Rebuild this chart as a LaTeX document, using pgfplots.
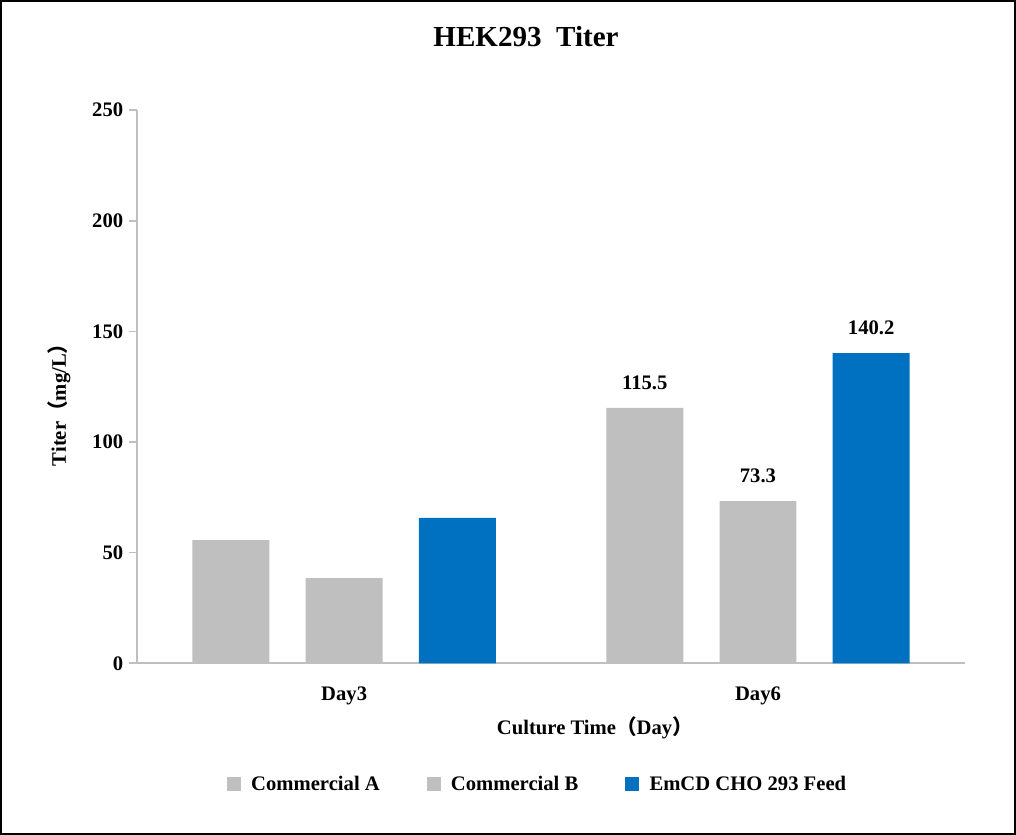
\documentclass[border=0pt]{standalone}
\usepackage{fontspec}
\setmainfont{Liberation Serif}
\newfontfamily\cjk{Noto Sans CJK SC}
\usepackage{pgfplots}
\pgfplotsset{compat=1.18}
\definecolor{cgray}{HTML}{BFBFBF}
\definecolor{cblue}{HTML}{0070C0}
\definecolor{caxis}{HTML}{BFBFBF}

\begin{document}
\begin{tikzpicture}
\begin{axis}[
  scale only axis,
  width=413pt, height=276pt,
  xmin=-0.5, xmax=1.5, ymin=0, ymax=250,
  axis x line=bottom, axis y line=left,
  axis line style={-, draw=caxis, line width=0.8pt},
  tick style={draw=caxis, line width=0.8pt},
  tick align=outside,
  ytick={0,50,...,250},
  major tick length=4pt,
  xtick={0,1}, xticklabels={Day3,Day6},
  x tick style={draw=none},
  extra x ticks={-0.5,0.5,1.5}, extra x tick labels={},
  extra x tick style={tick style={draw=caxis, line width=0.8pt}, major tick length=3pt},
  xticklabel style={font=\fontsize{10.3}{12}\selectfont\bfseries, yshift=-4pt},
  yticklabel style={font=\fontsize{10.3}{12}\selectfont\bfseries, xshift=0.5pt},
  /pgf/number format/assume math mode=true,
  ybar, bar width=0.186,
  title={HEK293\ \ Titer},
  title style={font=\fontsize{14.5}{17}\selectfont\bfseries, at={(0.5,1)}, anchor=south, yshift=22pt, xshift=-12.5pt},
  ylabel={Titer{\cjk （}mg/L{\cjk ）}},
  ylabel style={font=\fontsize{10.3}{12}\selectfont\bfseries, xshift=-6.5pt, yshift=4pt},
  xlabel={Culture Time{\cjk （}Day{\cjk ）}},
  xlabel style={font=\fontsize{10.3}{12}\selectfont\bfseries, at={(0.553,0)}, anchor=center, yshift=-32pt},
  legend style={draw=none, at={(0.485,-0.219)}, anchor=center,
    legend columns=3, font=\fontsize{10.3}{12}\selectfont\bfseries,
    /tikz/every odd column/.append style={column sep=3pt},
    /tikz/every even column/.append style={column sep=21.5pt}},
  legend image code/.code={\fill[#1] (0pt,-3.5pt) rectangle (7pt,3.5pt);},
  nodes near coords,
  point meta=explicit symbolic,
  every node near coord/.append style={font=\fontsize{10.3}{12}\selectfont\bfseries, anchor=south, inner sep=0pt, yshift=9pt},
]
\addplot[fill=cgray, draw=none, bar shift=-0.2736] coordinates {(0,55.7) [] (1,115.5) [115.5]};
\addplot[fill=cgray, draw=none, bar shift=0] coordinates {(0,38.5) [] (1,73.3) [73.3]};
\addplot[fill=cblue, draw=none, bar shift=0.2736] coordinates {(0,65.7) [] (1,140.2) [140.2]};
\legend{Commercial A, Commercial B, EmCD CHO 293 Feed}
\end{axis}
\draw[line width=1pt] (-68pt,-85pt) rectangle (438pt,330.5pt);
\end{tikzpicture}
\end{document}
